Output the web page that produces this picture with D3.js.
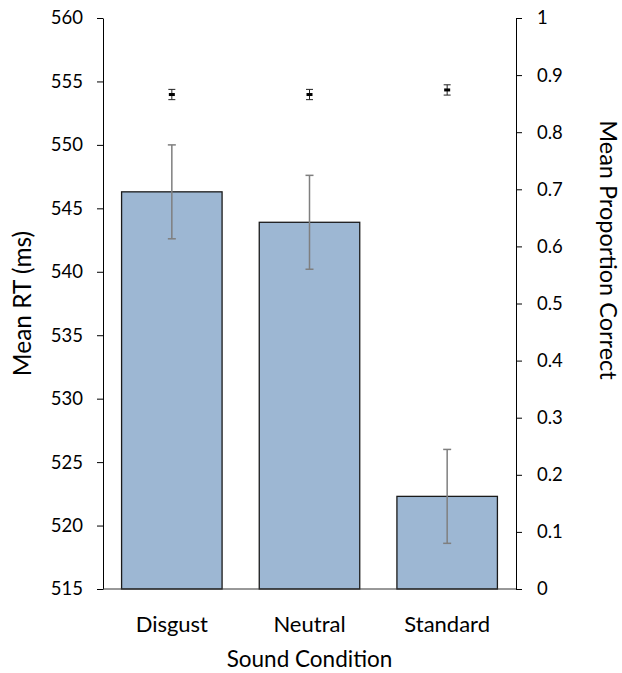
<!DOCTYPE html>
<html>
<head>
<meta charset="utf-8">
<script src="https://cdn.jsdelivr.net/npm/d3@7"></script>
<style>
  body { margin: 0; background: #fff; }
  text { font-family: Lato, "Open Sans", sans-serif; fill: #000; }
</style>
</head>
<body>
<svg id="chart" width="622" height="673"></svg>
<script>
// data
const conditions = ["Disgust", "Neutral", "Standard"]
const meanRT = [546.3, 543.9, 522.3]
const rtError = [3.7, 3.7, 3.7]
const propCorrect = [0.866, 0.866, 0.874]
const propError = [0.009, 0.009, 0.009]
const rtTicks = [515, 520, 525, 530, 535, 540, 545, 550, 555, 560]
const propTicks = [0, 0.1, 0.2, 0.3, 0.4, 0.5, 0.6, 0.7, 0.8, 0.9, 1]

const margin = { top: 18, right: 106, bottom: 84, left: 103 },
  width = 622 - margin.left - margin.right,
  height = 673 - margin.top - margin.bottom

const svg = d3.select("#chart")
const g = svg.append("g")
  .attr("transform", "translate(" + margin.left + "," + margin.top + ")")

const x = d3.scaleBand().domain(conditions).range([0, width]).paddingInner(0.27).paddingOuter(0.135)
const yRT = d3.scaleLinear().domain([515, 560]).range([height, 0])
const yProp = d3.scaleLinear().domain([0, 1]).range([height, 0])

// bars
g.selectAll("rect.bar")
  .data(conditions)
  .enter().append("rect")
  .attr("class", "bar")
  .attr("x", d => x(d))
  .attr("width", x.bandwidth())
  .attr("y", (d, i) => yRT(meanRT[i]))
  .attr("height", (d, i) => height - yRT(meanRT[i]))
  .attr("fill", "#9db7d3")
  .attr("stroke", "#1a1a1a")
  .attr("stroke-width", 1.3)

// error bars on RT
const rtErr = g.selectAll("g.rterr")
  .data(conditions)
  .enter().append("g")
  .attr("class", "rterr")
  .attr("stroke", "#7f7f7f")
  .attr("stroke-width", 1.5)
rtErr.append("line")
  .attr("x1", d => x(d) + x.bandwidth() / 2).attr("x2", d => x(d) + x.bandwidth() / 2)
  .attr("y1", (d, i) => yRT(meanRT[i] + rtError[i]))
  .attr("y2", (d, i) => yRT(meanRT[i] - rtError[i]))
rtErr.selectAll("line.cap")
  .data((d, i) => [[d, meanRT[i] + rtError[i]], [d, meanRT[i] - rtError[i]]])
  .enter().append("line")
  .attr("class", "cap")
  .attr("x1", d => x(d[0]) + x.bandwidth() / 2 - 4)
  .attr("x2", d => x(d[0]) + x.bandwidth() / 2 + 4)
  .attr("y1", d => yRT(d[1])).attr("y2", d => yRT(d[1]))

// proportion correct markers
const pErr = g.selectAll("g.perr")
  .data(conditions)
  .enter().append("g")
  .attr("class", "perr")
  .attr("stroke", "#222")
  .attr("stroke-width", 1)
pErr.append("line")
  .attr("x1", d => x(d) + x.bandwidth() / 2).attr("x2", d => x(d) + x.bandwidth() / 2)
  .attr("y1", (d, i) => yProp(propCorrect[i] + propError[i]))
  .attr("y2", (d, i) => yProp(propCorrect[i] - propError[i]))
pErr.selectAll("line.cap")
  .data((d, i) => [[d, propCorrect[i] + propError[i]], [d, propCorrect[i] - propError[i]]])
  .enter().append("line")
  .attr("class", "cap")
  .attr("x1", d => x(d[0]) + x.bandwidth() / 2 - 3.5)
  .attr("x2", d => x(d[0]) + x.bandwidth() / 2 + 3.5)
  .attr("y1", d => yProp(d[1])).attr("y2", d => yProp(d[1]))
g.selectAll("rect.marker")
  .data(conditions)
  .enter().append("rect")
  .attr("class", "marker")
  .attr("x", d => x(d) + x.bandwidth() / 2 - 3)
  .attr("y", (d, i) => yProp(propCorrect[i]) - 1.5)
  .attr("width", 6).attr("height", 3)
  .attr("fill", "#000")

// axes
const leftAxis = g.append("g")
  .call(d3.axisLeft(yRT).tickValues(rtTicks).tickSize(6).tickPadding(14).tickSizeOuter(0))
const rightAxis = g.append("g")
  .attr("transform", "translate(" + width + ",0)")
  .call(d3.axisRight(yProp).tickValues(propTicks).tickSize(6).tickPadding(15).tickSizeOuter(0)
    .tickFormat(d => d === 0 || d === 1 ? d3.format("d")(d) : d3.format(".1f")(d)))
g.append("line")
  .attr("x1", 0).attr("x2", width)
  .attr("y1", height).attr("y2", height)
  .attr("stroke", "#333").attr("stroke-width", 1)

for (const ax of [leftAxis, rightAxis]) {
  ax.select(".domain").attr("stroke", "#000")
  ax.selectAll(".tick line").attr("stroke", "#000")
  ax.selectAll(".tick text").style("font-size", "18.5px").style("font-family", "Lato, sans-serif")
}

// category labels
g.selectAll("text.cat")
  .data(conditions)
  .enter().append("text")
  .attr("class", "cat")
  .attr("x", d => x(d) + x.bandwidth() / 2)
  .attr("y", height + 43)
  .attr("text-anchor", "middle")
  .style("font-size", "22px")
  .text(d => d)

// titles
svg.append("text")
  .attr("x", margin.left + width / 2)
  .attr("y", 667)
  .attr("text-anchor", "middle")
  .style("font-size", "22.5px")
  .text("Sound Condition")

svg.append("text")
  .attr("transform", "translate(31," + (margin.top + height / 2) + ") rotate(-90)")
  .attr("text-anchor", "middle")
  .style("font-size", "24.5px")
  .text("Mean RT (ms)")

svg.append("text")
  .attr("transform", "translate(600,250) rotate(90)")
  .attr("text-anchor", "middle")
  .style("font-size", "23.5px")
  .text("Mean Proportion Correct")
</script>
</body>
</html>
